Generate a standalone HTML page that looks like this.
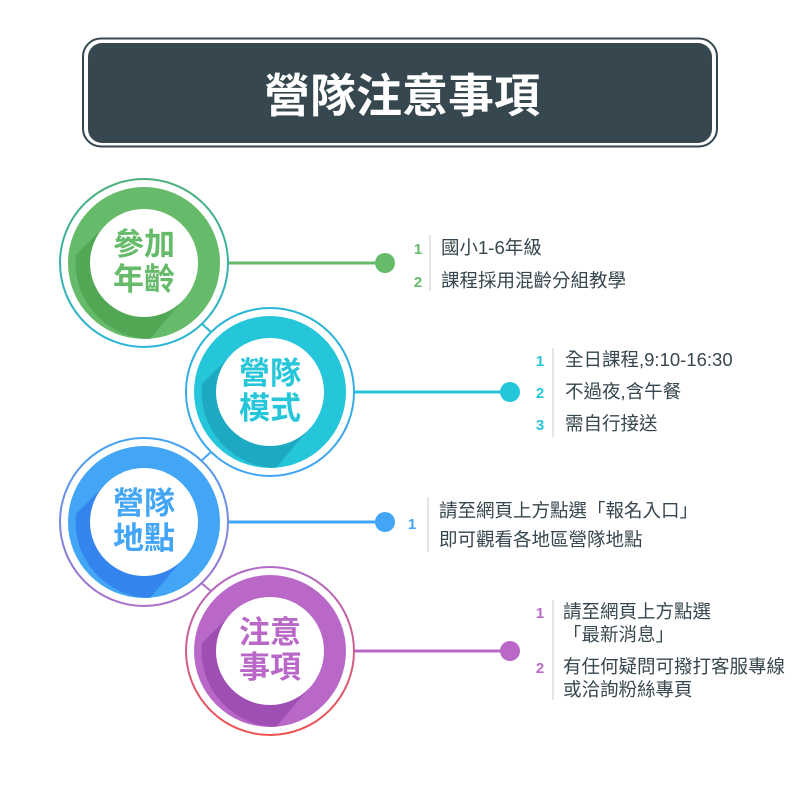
<!DOCTYPE html>
<html><head><meta charset="utf-8"><style>
body{margin:0;background:#fff;}
svg text{font-family:"Liberation Sans","Noto Sans CJK TC",sans-serif;}
</style></head><body>
<svg width="800" height="801" viewBox="0 0 800 801" xmlns="http://www.w3.org/2000/svg">
<defs>
<linearGradient id="r1" x1="0" y1="0" x2="0" y2="1"><stop offset="0" stop-color="#4caf7a"/><stop offset="1" stop-color="#29b6d6"/></linearGradient>
<linearGradient id="r2" x1="0" y1="0" x2="0" y2="1"><stop offset="0" stop-color="#29b6d6"/><stop offset="1" stop-color="#42a5f5"/></linearGradient>
<linearGradient id="r3" x1="0" y1="0" x2="0" y2="1"><stop offset="0" stop-color="#42a5f5"/><stop offset="1" stop-color="#ab6fc9"/></linearGradient>
<linearGradient id="r4" x1="0" y1="0" x2="0" y2="1"><stop offset="0" stop-color="#b06ac7"/><stop offset="1" stop-color="#ef5350"/></linearGradient>
</defs>
<rect x="83" y="38.5" width="634" height="108" rx="18" fill="none" stroke="#37474f" stroke-width="2"/>
<rect x="88" y="43" width="624" height="100" rx="14" fill="#37474f"/>
<text x="402" y="112" text-anchor="middle" fill="#fff" font-size="46" font-weight="bold">營隊注意事項</text>

<line x1="200" y1="322" x2="212" y2="333" stroke="#29b6d6" stroke-width="2"/>
<line x1="200" y1="462" x2="212" y2="451" stroke="#42a5f5" stroke-width="2"/>
<line x1="200" y1="582" x2="212" y2="592" stroke="#ab6fc9" stroke-width="2"/>

<line x1="222" y1="263" x2="385" y2="263" stroke="#66bb6a" stroke-width="3"/>
<circle cx="385" cy="263" r="10" fill="#66bb6a"/>
<line x1="348" y1="392" x2="510" y2="392" stroke="#26c6da" stroke-width="3"/>
<circle cx="510" cy="392" r="10" fill="#26c6da"/>
<line x1="222" y1="522" x2="385" y2="522" stroke="#42a5f5" stroke-width="3"/>
<circle cx="385" cy="522" r="10" fill="#42a5f5"/>
<line x1="348" y1="651" x2="510" y2="651" stroke="#ba68c8" stroke-width="3"/>
<circle cx="510" cy="651" r="10" fill="#ba68c8"/>

<circle cx="144" cy="263" r="84" fill="#fff" stroke="url(#r1)" stroke-width="2"/>
<circle cx="144" cy="263" r="76" fill="#66bb6a"/>
<path d="M106 225 L76 255 A76 76 0 0 0 150 339 L182 301 Z" fill="#4a9e4d" opacity="0.7"/>
<circle cx="144" cy="263" r="54" fill="#fff"/>
<text x="144" y="255" text-anchor="middle" fill="#66bb6a" font-size="31" font-weight="bold">參加</text>
<text x="144" y="290" text-anchor="middle" fill="#66bb6a" font-size="31" font-weight="bold">年齡</text>

<circle cx="270" cy="392" r="84" fill="#fff" stroke="url(#r2)" stroke-width="2"/>
<circle cx="270" cy="392" r="76" fill="#26c6da"/>
<path d="M232 354 L202 384 A76 76 0 0 0 276 468 L308 430 Z" fill="#1a9cb8" opacity="0.7"/>
<circle cx="270" cy="392" r="54" fill="#fff"/>
<text x="270" y="384" text-anchor="middle" fill="#26c6da" font-size="31" font-weight="bold">營隊</text>
<text x="270" y="419" text-anchor="middle" fill="#26c6da" font-size="31" font-weight="bold">模式</text>

<circle cx="144" cy="522" r="84" fill="#fff" stroke="url(#r3)" stroke-width="2"/>
<circle cx="144" cy="522" r="76" fill="#42a5f5"/>
<path d="M106 484 L76 514 A76 76 0 0 0 150 598 L182 560 Z" fill="#2a6ee8" opacity="0.6"/>
<circle cx="144" cy="522" r="54" fill="#fff"/>
<text x="144" y="514" text-anchor="middle" fill="#42a5f5" font-size="31" font-weight="bold">營隊</text>
<text x="144" y="549" text-anchor="middle" fill="#42a5f5" font-size="31" font-weight="bold">地點</text>

<circle cx="270" cy="651" r="84" fill="#fff" stroke="url(#r4)" stroke-width="2"/>
<circle cx="270" cy="651" r="76" fill="#ba68c8"/>
<path d="M232 613 L202 643 A76 76 0 0 0 276 727 L308 689 Z" fill="#8e3fa6" opacity="0.6"/>
<circle cx="270" cy="651" r="54" fill="#fff"/>
<text x="270" y="643" text-anchor="middle" fill="#ba68c8" font-size="31" font-weight="bold">注意</text>
<text x="270" y="678" text-anchor="middle" fill="#ba68c8" font-size="31" font-weight="bold">事項</text>

<g font-size="18.5" fill="#37474f">
<line x1="430" y1="235" x2="430" y2="291" stroke="#ddd" stroke-width="1.5"/>
<text x="418" y="254" fill="#66bb6a" font-weight="bold" font-size="15" text-anchor="middle">1</text>
<text x="418" y="287" fill="#66bb6a" font-weight="bold" font-size="15" text-anchor="middle">2</text>
<text x="441" y="254">國小1-6年級</text>
<text x="441" y="287">課程採用混齡分組教學</text>

<line x1="553" y1="348" x2="553" y2="437" stroke="#ddd" stroke-width="1.5"/>
<text x="540" y="366" fill="#26c6da" font-weight="bold" font-size="15" text-anchor="middle">1</text>
<text x="540" y="398" fill="#26c6da" font-weight="bold" font-size="15" text-anchor="middle">2</text>
<text x="540" y="430" fill="#26c6da" font-weight="bold" font-size="15" text-anchor="middle">3</text>
<text x="565" y="366">全日課程,9:10-16:30</text>
<text x="565" y="398">不過夜,含午餐</text>
<text x="565" y="430">需自行接送</text>

<line x1="428" y1="497" x2="428" y2="552" stroke="#ddd" stroke-width="1.5"/>
<text x="412" y="529" fill="#42a5f5" font-weight="bold" font-size="15" text-anchor="middle">1</text>
<text x="439" y="517">請至網頁上方點選「報名入口」</text>
<text x="439" y="546">即可觀看各地區營隊地點</text>

<line x1="553" y1="600" x2="553" y2="700" stroke="#ddd" stroke-width="1.5"/>
<text x="540" y="618" fill="#ba68c8" font-weight="bold" font-size="15" text-anchor="middle">1</text>
<text x="540" y="673" fill="#ba68c8" font-weight="bold" font-size="15" text-anchor="middle">2</text>
<text x="563" y="618">請至網頁上方點選</text>
<text x="563" y="641">「最新消息」</text>
<text x="563" y="673">有任何疑問可撥打客服專線</text>
<text x="563" y="696">或洽詢粉絲專頁</text>
</g>
</svg>
</body></html>
